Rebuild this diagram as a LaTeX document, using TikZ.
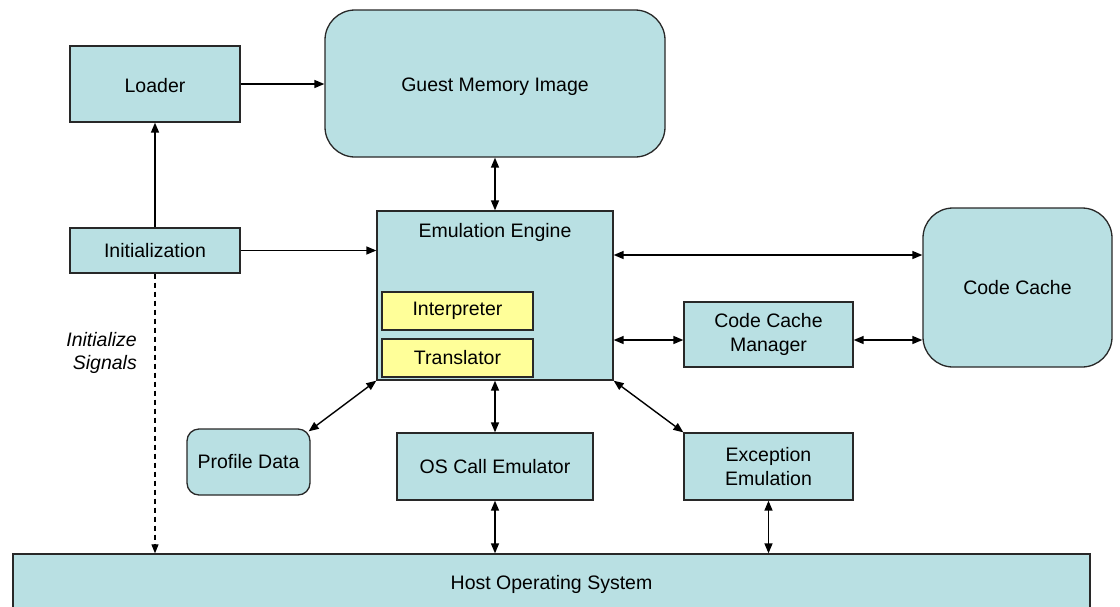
\documentclass[tikz,border=0pt]{standalone}
\usepackage{fontspec}
\setmainfont{Liberation Sans}
\usetikzlibrary{arrows.meta,calc}
\definecolor{boxfill}{RGB}{185,224,227}
\definecolor{unitfill}{RGB}{255,255,153}
\definecolor{edge}{RGB}{40,40,40}
\tikzset{
  label font/.style={font=\fontsize{19.5}{23.5}\selectfont},
  box/.style={draw=edge, line width=1.3pt, fill=boxfill, inner sep=0pt,
    align=center, label font},
  roundbox/.style={box, rounded corners=30pt},
  unit/.style={box, fill=unitfill},
  link/.style={line width=1.4pt, -{Triangle[length=10pt,width=8pt]}},
  both/.style={line width=1.4pt, {Triangle[length=10pt,width=8pt]}-{Triangle[length=10pt,width=8pt]}},
  signal/.style={line width=1.1pt, dash pattern=on 5pt off 4pt, -{Triangle[length=9pt,width=7pt]}},
  note/.style={font=\fontsize{19.5}{23.5}\selectfont\itshape, align=right, inner sep=0pt}
}
\begin{document}
\begin{tikzpicture}[x=1pt,y=-1pt]
\useasboundingbox (0,0) rectangle (1120,606);

% components
\node[box, minimum width=170pt, minimum height=76pt, text height=17pt] (loader) at (155,84) {Loader};
\node[roundbox, minimum width=340pt, minimum height=147pt, text height=21pt] (guest) at (495,83.5) {Guest Memory Image};
\node[box, minimum width=170pt, minimum height=45pt] (init) at (155,250.5) {Initialization};
\node[box, minimum width=236pt, minimum height=169pt] (ee) at (495,295.5) {};
\node[inner sep=0pt, label font] (eetitle) at (495,232) {Emulation Engine};
\node[unit, minimum width=151pt, minimum height=38pt] (interp) at (457.5,311) {Interpreter};
\node[unit, minimum width=151pt, minimum height=38pt] (trans) at (457.5,358) {Translator};
\node[roundbox, minimum width=189pt, minimum height=159pt] (cc) at (1017.5,287.5) {Code Cache};
\node[box, minimum width=169pt, minimum height=65pt] (ccm) at (768.5,334.5) {Code Cache\\Manager};
\node[box, rounded corners=12pt, minimum width=123pt, minimum height=66pt] (profile) at (248.5,462) {Profile Data};
\node[box, minimum width=196pt, minimum height=67pt] (os) at (495,466.5) {OS Call Emulator};
\node[box, minimum width=169pt, minimum height=67pt] (exc) at (768.5,466.5) {Exception\\Emulation};
\node[box, minimum width=1077pt, minimum height=60pt] (host) at (551.5,584) {Host Operating System};
\node[note, anchor=east] (signals) at (137,353) {Initialize\\Signals};

% connectors
\draw[link] (loader.east) -- (loader.east -| guest.west);
\draw[link] (init.north) -- (loader.south);
\draw[link] (init.east) -- (init.east -| ee.west);
\draw[signal] (init.south) -- (init.south |- host.north);
\draw[both] (guest.south) -- (ee.north);
\coordinate (eeup) at ($(ee.east)+(0,-40.5)$);
\draw[both] (eeup) -- (eeup -| cc.west);
\coordinate (ccmrow) at ($(ccm.west)+(0,5.5)$);
\draw[both] (ccmrow -| ee.east) -- (ccmrow);
\draw[both] (ccmrow -| ccm.east) -- (ccmrow -| cc.west);
\draw[both] (ee.south west) -- ($(profile.north east)+(-2,3)$);
\draw[both] (ee.south) -- (os.north);
\draw[both] (ee.south east) -- (exc.north west);
\draw[both] (os.south) -- (os.south |- host.north);
\draw[both] (exc.south) -- (exc.south |- host.north);
\end{tikzpicture}
\end{document}
